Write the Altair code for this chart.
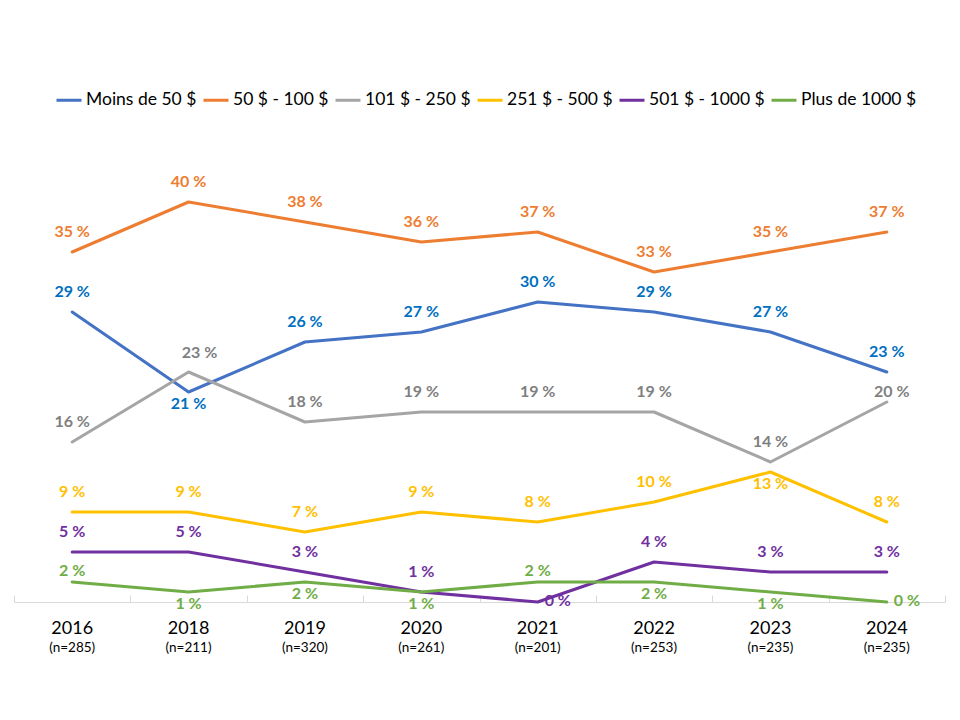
import altair as alt
import pandas as pd

years = ["2016", "2018", "2019", "2020", "2021", "2022", "2023", "2024"]
n_labels = ["(n=285)", "(n=211)", "(n=320)", "(n=261)", "(n=201)", "(n=253)", "(n=235)", "(n=235)"]
series = ["Moins de 50 $", "50 $ - 100 $", "101 $ - 250 $", "251 $ - 500 $", "501 $ - 1000 $", "Plus de 1000 $"]

moins_50 = [29, 21, 26, 27, 30, 29, 27, 23]
s50_100 = [35, 40, 38, 36, 37, 33, 35, 37]
s101_250 = [16, 23, 18, 19, 19, 19, 14, 20]
s251_500 = [9, 9, 7, 9, 8, 10, 13, 8]
s501_1000 = [5, 5, 3, 1, 0, 4, 3, 3]
plus_1000 = [2, 1, 2, 1, 2, 2, 1, 0]

# label placement keywords (mapped to offsets below)
place_moins = ["above", "below", "above", "above", "above", "above", "above", "above"]
place_50 = ["above"] * 8
place_101 = ["above", "aboveshift", "above", "above", "above", "above", "above", "aboveright"]
place_251 = ["above"] * 6 + ["below", "above"]
place_501 = ["above", "above", "above", "above", "right", "above", "above", "above"]
place_1000 = ["near", "below", "below", "below", "near", "below", "below", "right"]

line_colors = ["#4472C4", "#ED7D31", "#A5A5A5", "#FFC000", "#7030A0", "#70AD47"]
label_colors = ["#0070C0", "#ED7D31", "#7F7F7F", "#FFC000", "#7030A0", "#70AD47"]

values = [moins_50, s50_100, s101_250, s251_500, s501_1000, plus_1000]
places = [place_moins, place_50, place_101, place_251, place_501, place_1000]

rows = []
for si, s in enumerate(series):
    for yi, yr in enumerate(years):
        v = values[si][yi]
        rows.append({
            "year": yr, "series": s, "value": v, "label": f"{v} %",
            "place": places[si][yi], "lcolor": label_colors[si], "order": si,
        })
df = pd.DataFrame(rows)

FONT = "Lato"
H = 450
W = 931

years_js = "[" + ",".join(f"'{y}'" for y in years) + "]"
n_js = "[" + ",".join(f"'{n}'" for n in n_labels) + "]"

xscale = alt.Scale(type="band", paddingInner=0, paddingOuter=0)
yscale = alt.Scale(domain=[0, 45])

base = alt.Chart(df)

lines = base.mark_line(strokeWidth=3, strokeCap="round", strokeJoin="round").encode(
    x=alt.X("year:N", sort=years, scale=xscale, bandPosition=0.5,
            axis=alt.Axis(orient="bottom", title=None, domain=True, domainColor="#D9D9D9",
                          domainWidth=1, ticks=False, grid=False, labelFontSize=18,
                          labelFont=FONT, labelColor="#000000", labelPadding=17, labelAngle=0)),
    y=alt.Y("value:Q", scale=yscale, axis=None),
    color=alt.Color("series:N", sort=series,
                    scale=alt.Scale(domain=series, range=line_colors),
                    legend=alt.Legend(orient="none", legendX=41, legendY=-66, direction="horizontal",
                                      title=None, symbolType="stroke", symbolSize=625,
                                      symbolStrokeWidth=3, labelFontSize=17.5, labelFont=FONT,
                                      labelColor="#000000", columnPadding=0, labelOffset=3)),
    order=alt.Order("order:Q"),
)

n_axis = base.mark_point(opacity=0).encode(
    x=alt.X("year:N", sort=years, scale=xscale, bandPosition=0.5,
            axis=alt.Axis(orient="bottom", title=None, domain=False, ticks=False, grid=False,
                          labelFontSize=13.5, labelFont=FONT, labelColor="#000000",
                          labelPadding=38, labelAngle=0,
                          labelExpr=f"{n_js}[indexof({years_js}, datum.label)]")),
    y=alt.Y("value:Q", scale=yscale, axis=None),
)

tick_axis = base.mark_point(opacity=0).encode(
    x=alt.X("year:N", sort=years, scale=xscale, bandPosition=0.5,
            axis=alt.Axis(orient="top", offset=-H, title=None, domain=False, labels=False,
                          ticks=True, tickBand="extent", tickSize=7, tickColor="#D9D9D9",
                          tickWidth=1, grid=False)),
    y=alt.Y("value:Q", scale=yscale, axis=None),
)

offsets = {
    "above": dict(dx=0, dy=-20, align="center"),
    "aboveshift": dict(dx=11, dy=-19, align="center"),
    "near": dict(dx=0, dy=-11, align="center"),
    "below": dict(dx=0, dy=12, align="center"),
    "right": dict(dx=7, dy=-1, align="left"),
    "aboveright": dict(dx=5, dy=-10, align="center"),
}

text_layers = []
for key, off in offsets.items():
    t = base.transform_filter(alt.datum.place == key).mark_text(
        font=FONT, fontSize=16, fontWeight="bold", baseline="middle", **off
    ).encode(
        x=alt.X("year:N", sort=years, scale=xscale, bandPosition=0.5, axis=None),
        y=alt.Y("value:Q", scale=yscale, axis=None),
        text="label:N",
        color=alt.Color("lcolor:N", scale=None),
    )
    text_layers.append(t)

chart = alt.layer(lines, n_axis, tick_axis, *text_layers).resolve_axis(x="independent").properties(
    width=W, height=H,
    autosize=alt.AutoSizeParams(type="none"),
    padding={"left": 6, "top": 144, "right": 5, "bottom": 100},
).configure_view(stroke=None)

chart.save("out.html", embed_options={"renderer": "svg", "actions": False})
